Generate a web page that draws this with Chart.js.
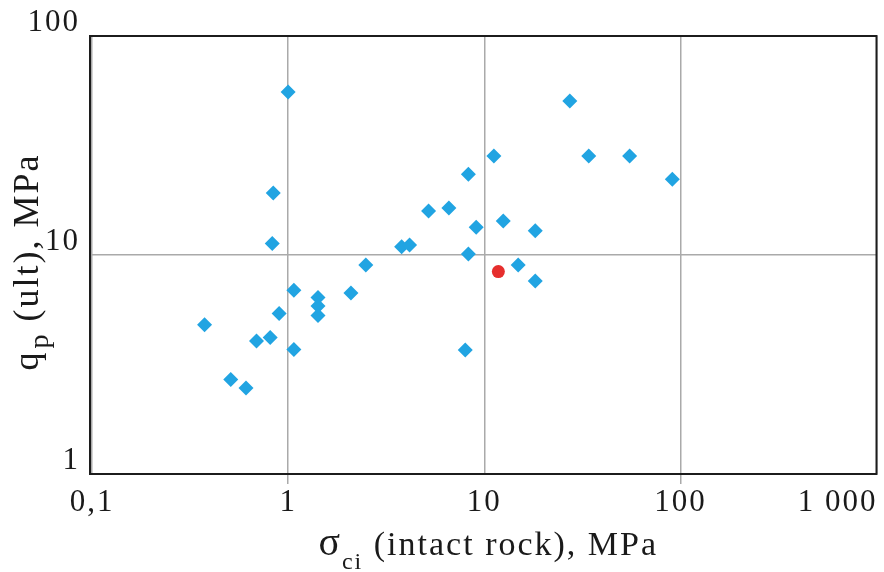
<!DOCTYPE html>
<html>
<head>
<meta charset="utf-8">
<script src="https://cdn.jsdelivr.net/npm/chart.js@4.4.0/dist/chart.umd.min.js"></script>
<style>
  html, body { margin: 0; padding: 0; background: #fff; }
</style>
</head>
<body>
<canvas id="myChart" width="884" height="572"></canvas>
<script>
const xTicks = [0.1, 1, 10, 100, 1000];
const xTickLabels = ['0,1', '1', '10', '100', '1 000'];
const yTicks = [1, 10, 100];
const yTickLabels = ['1', '10', '100'];

// sigma_ci (intact rock), MPa
const sigmaCi = [0.375, 0.51, 0.61, 0.69, 0.81, 0.83, 0.84, 0.90, 1.0, 1.07,
    1.07, 1.42, 1.42, 1.42, 2.09, 2.49, 3.79, 4.16, 5.2, 6.6,
    8.3, 8.3, 8.0, 9.1, 11.2, 12.5, 14.9, 18.2, 18.2, 27.3,
    34.1, 55.1, 91];
// q_p (ult), MPa
const qpUlt = [4.8, 2.7, 2.47, 4.05, 4.2, 11.3, 19.2, 5.4, 55.5, 6.9,
    3.7, 6.4, 5.85, 5.3, 6.7, 9.0, 10.9, 11.1, 15.9, 16.4,
    23.4, 10.1, 3.68, 13.4, 28.3, 14.3, 9.0, 12.9, 7.6, 50.5,
    28.3, 28.3, 22.2];

const redSigmaCi = [11.8];
const redQpUlt = [8.4];

const spacing = '2px';
const serif = "'Liberation Serif', 'DejaVu Serif', serif";

function drawParts(ctx, parts, cx, y) {
    let total = 0;
    parts.forEach(p => {
        ctx.font = p.size + 'px ' + serif;
        p.w = ctx.measureText(p.t).width + (p.gap || 0);
        total += p.w;
    });
    let x = cx - total / 2;
    parts.forEach(p => {
        ctx.font = p.size + 'px ' + serif;
        ctx.fillText(p.t, x + (p.gap || 0), y + (p.dy || 0));
        x += p.w;
    });
}

const frame = {
    id: 'frame',
    beforeLayout(chart) { chart.ctx.letterSpacing = spacing; },
    beforeDraw(chart) { chart.ctx.letterSpacing = spacing; },
    afterDraw(chart) {
        const { ctx, chartArea: a } = chart;
        ctx.save();
        ctx.strokeStyle = '#1c1c1c';
        ctx.lineWidth = 2;
        ctx.strokeRect(a.left - 2, a.top, a.right - a.left + 2, a.bottom - a.top);

        ctx.fillStyle = '#1a1a1a';
        ctx.textAlign = 'left';
        ctx.textBaseline = 'alphabetic';
        ctx.letterSpacing = spacing;
        drawParts(ctx, [
            { t: 'σ', size: 40 },
            { t: 'ci', size: 24, dy: 14 },
            { t: ' (intact rock), MPa', size: 34 }
        ], (a.left + a.right) / 2 + 4, 555);

        ctx.translate(38, 262);
        ctx.rotate(-Math.PI / 2);
        drawParts(ctx, [
            { t: 'q', size: 36 },
            { t: 'p', size: 28, dy: 10, gap: 2 },
            { t: ' (ult), MPa', size: 36 }
        ], 0, 0);
        ctx.restore();
    }
};

const gridColor = '#aaaaaa';

const config = {
    type: 'scatter',
    data: {
        datasets: [{
            label: 'data',
            data: sigmaCi.map((x, i) => ({ x: x, y: qpUlt[i] })),
            pointStyle: 'rectRot',
            pointRadius: 7.5,
            backgroundColor: '#21a4e2',
            borderWidth: 0
        },
        {
            label: 'red',
            data: redSigmaCi.map((x, i) => ({ x: x, y: redQpUlt[i] })),
            pointStyle: 'circle',
            pointRadius: 6.5,
            backgroundColor: '#e62e2d',
            borderWidth: 0
        }]
    },
    options: {
        responsive: false,
        animation: false,
        layout: { padding: { top: 36, right: 3, left: 0, bottom: 0 } },
        plugins: { legend: { display: false }, tooltip: { enabled: false } },
        scales: {
            x: {
                type: 'logarithmic',
                min: 0.1,
                max: 1000,
                afterBuildTicks: s => { s.ticks = xTicks.map(v => ({ value: v })); },
                afterFit: s => { s.height = 98; s.paddingLeft = 0; s.paddingRight = 0; },
                border: { display: false },
                grid: {
                    color: gridColor,
                    lineWidth: 1.5,
                    tickLength: 10,
                    tickColor: c => (c.tick && (c.tick.value === 1 || c.tick.value === 100)) ? gridColor : 'rgba(0,0,0,0)'
                },
                ticks: {
                    padding: 0,
                    maxRotation: 0,
                    autoSkip: false,
                    color: '#1a1a1a',
                    font: { family: serif, size: 31 },
                    callback: (v, i) => xTickLabels[i] + (i === xTickLabels.length - 1 ? '\u00a0'.repeat(8) : '')
                }
            },
            y: {
                type: 'logarithmic',
                min: 1,
                max: 100,
                afterBuildTicks: s => { s.ticks = yTicks.map(v => ({ value: v })); },
                afterFit: s => { s.width = 92; s.paddingTop = 0; s.paddingBottom = 0; },
                border: { display: false },
                grid: { color: gridColor, lineWidth: 1.5, drawTicks: false },
                ticks: {
                    padding: 12,
                    labelOffset: -13,
                    autoSkip: false,
                    color: '#1a1a1a',
                    font: { family: serif, size: 31 },
                    callback: (v, i) => yTickLabels[i]
                }
            }
        }
    },
    plugins: [frame]
};

const myChart = new Chart(document.getElementById('myChart'), config);
</script>
</body>
</html>
